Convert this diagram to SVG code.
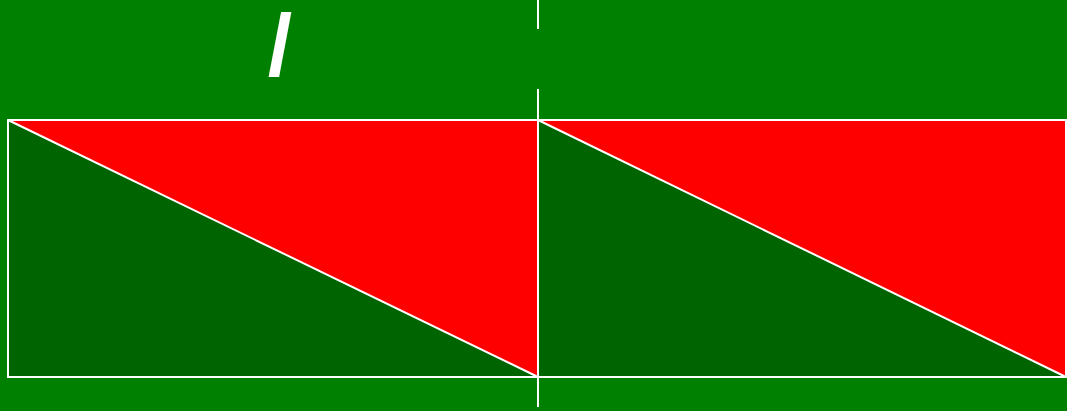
<svg xmlns="http://www.w3.org/2000/svg" width="1067" height="411" viewBox="0 0 1067 411">
<style>
.red{fill:#ff0000}
.dk{fill:#006400}
.ln{stroke:#ffffff;stroke-width:2;fill:none}
.t{font-family:"Liberation Sans",Arial,sans-serif;fill:#ffffff;font-weight:bold}
</style>
<rect x="0" y="0" width="1067" height="411" fill="#008000"/>
<g id="cell-left">
<polygon class="red" points="8,120 538,120 538,377"/>
<polygon class="dk" points="8,120 538,377 8,377"/>
<rect class="ln" x="8" y="120" width="530" height="257"/>
<line class="ln" x1="8" y1="120" x2="538" y2="377"/>
</g>
<g id="cell-right">
<polygon class="red" points="538,120 1067,120 1067,377"/>
<polygon class="dk" points="538,120 1067,377 538,377"/>
<rect class="ln" x="538" y="120" width="528" height="257"/>
<line class="ln" x1="538" y1="120" x2="1066" y2="377"/>
</g>
<g id="connectors">
<line class="ln" x1="538" y1="0" x2="538" y2="29"/>
<line class="ln" x1="538" y1="89" x2="538" y2="407"/>
</g>
<g id="label">
<text class="t" x="280" y="75" font-size="88" text-anchor="middle">/</text>
</g>
</svg>
